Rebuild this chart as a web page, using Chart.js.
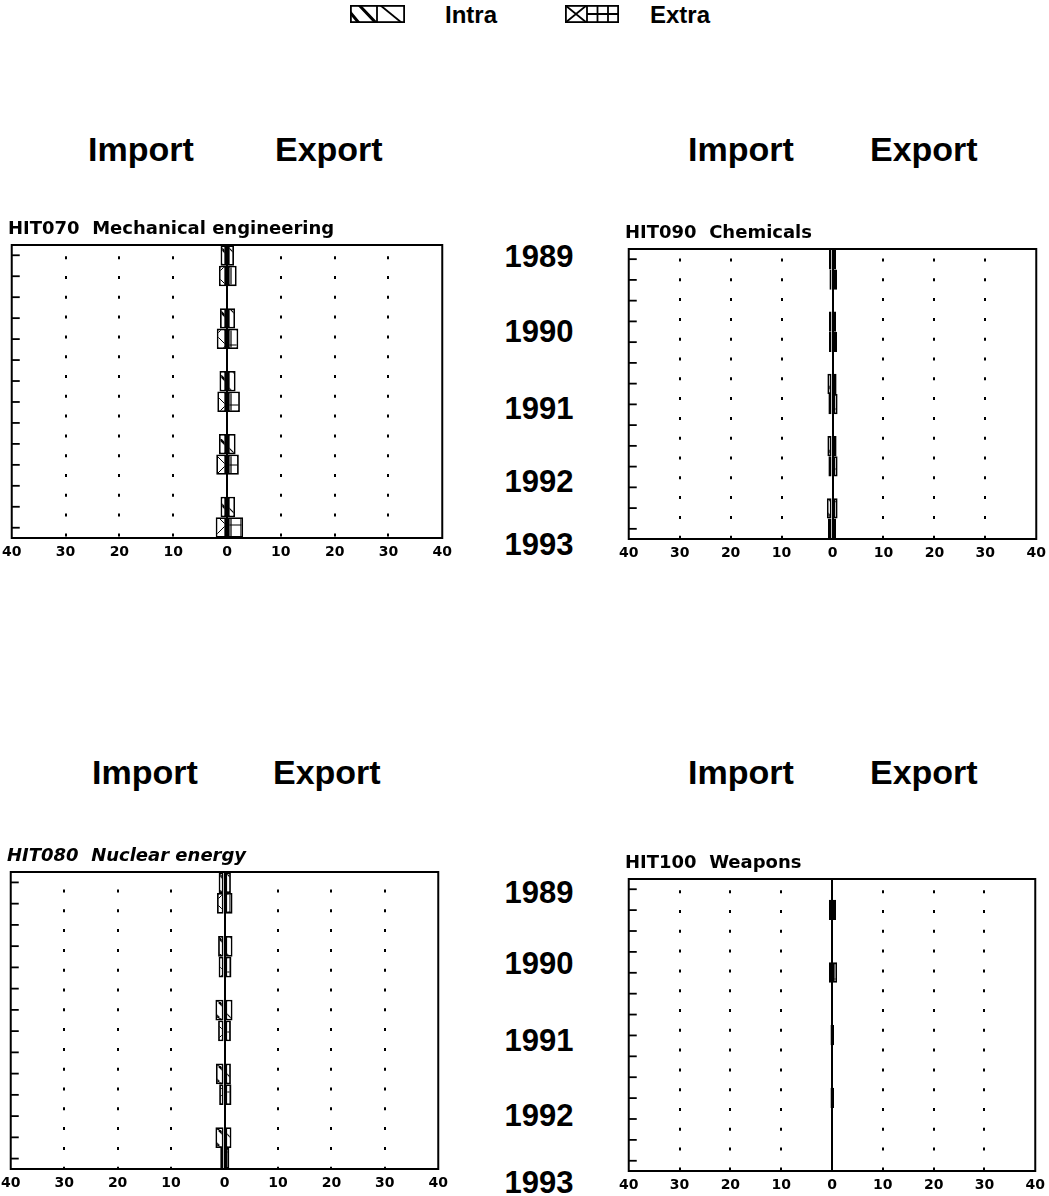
<!DOCTYPE html>
<html>
<head>
<meta charset="utf-8">
<script src="https://cdn.jsdelivr.net/npm/chart.js@4.4.0/dist/chart.umd.min.js"></script>
<style>
  body { margin: 0; background: #fff; }
  #page { position: relative; width: 1049px; height: 1196px; overflow: hidden; background: #fff; }
  .big { position: absolute; font-family: "Liberation Sans", Arial, sans-serif; font-weight: bold; font-size: 34px; line-height: 34px; color: #000; white-space: nowrap; }
  .year { position: absolute; width: 100px; text-align: center; font-family: "Liberation Sans", Arial, sans-serif; font-weight: bold; font-size: 31px; line-height: 31px; color: #000; }
  .leg { position: absolute; font-family: "Liberation Sans", Arial, sans-serif; font-weight: bold; font-size: 24px; line-height: 24px; color: #000; }
  canvas { position: absolute; }
</style>
</head>
<body>
<div id="page">
  <canvas id="swIntra" width="55" height="18" style="left:350px;top:5px"></canvas>
  <div class="leg" style="left:445px;top:3px">Intra</div>
  <canvas id="swExtra" width="54" height="18" style="left:565px;top:5px"></canvas>
  <div class="leg" style="left:650px;top:3px">Extra</div>

  <div class="big" style="left:88px;top:132px">Import</div>
  <div class="big" style="left:275px;top:132px">Export</div>
  <div class="big" style="left:688px;top:132px">Import</div>
  <div class="big" style="left:870px;top:132px">Export</div>
  <div class="big" style="left:92px;top:755px">Import</div>
  <div class="big" style="left:273px;top:755px">Export</div>
  <div class="big" style="left:688px;top:755px">Import</div>
  <div class="big" style="left:870px;top:755px">Export</div>
</div>
<script>
const years = ['1989', '1990', '1991', '1992', '1993'];
const xTickValues = [-40, -30, -20, -10, 0, 10, 20, 30, 40];

// HIT070 Mechanical engineering
const mechIntraImport = [-1.2, -1.3, -1.4, -1.5, -1.2];
const mechIntraExport = [1.3, 1.5, 1.6, 1.6, 1.5];
const mechExtraImport = [-1.5, -1.9, -1.8, -2.0, -2.1];
const mechExtraExport = [1.8, 2.1, 2.4, 2.2, 3.0];

// HIT090 Chemicals
const chemIntraImport = [-0.7, -0.7, -1.0, -1.0, -1.1];
const chemIntraExport = [0.7, 0.7, 0.8, 0.8, 1.0];
const chemExtraImport = [-0.6, -0.7, -0.8, -0.8, -0.9];
const chemExtraExport = [0.9, 0.9, 1.0, 1.0, 0.7];

// HIT080 Nuclear energy
const nuclIntraImport = [-1.1, -1.2, -1.7, -1.6, -1.7];
const nuclIntraExport = [1.2, 1.5, 1.5, 1.2, 1.3];
const nuclExtraImport = [-1.4, -1.1, -1.2, -1.0, -0.8];
const nuclExtraExport = [1.5, 1.3, 1.2, 1.3, 0.9];

// HIT100 Weapons
const weapIntraImport = [0, 0, 0, 0, 0];
const weapIntraExport = [0, 0, 0, 0, 0];
const weapExtraImport = [-0.6, -0.6, -0.3, -0.3, 0];
const weapExtraExport = [0.8, 1.0, 0.4, 0.4, 0];

// year labels between the panels (vertical centres)
const yearTopRow = [256.5, 331, 408, 481, 544];
const yearBottomRow = [892, 963, 1040, 1115, 1182];

const page = document.getElementById('page');

[yearTopRow, yearBottomRow].forEach(row => {
    row.forEach((cy, i) => {
        const d = document.createElement('div');
        d.className = 'year';
        d.style.left = '489px';
        d.style.top = (cy - 15.2) + 'px';
        d.textContent = years[i];
        page.appendChild(d);
    });
});

function tile(w, h, draw) {
    const c = document.createElement('canvas');
    c.width = w;
    c.height = h;
    const g = c.getContext('2d');
    g.fillStyle = '#fff';
    g.fillRect(0, 0, w, h);
    g.strokeStyle = '#000';
    draw(g, w, h);
    return g.createPattern(c, 'repeat');
}

function diag(g, s) {
    for (let x0 = -s; x0 <= s; x0 += s) {
        g.beginPath();
        g.moveTo(x0, 0);
        g.lineTo(x0 + s, s);
        g.stroke();
    }
}

const patterns = {
    intraImport: tile(16, 16, (g) => { g.lineWidth = 2.5; diag(g, 16); }),
    intraExport: tile(20, 20, (g) => { g.lineWidth = 1.2; diag(g, 20); }),
    extraImport: tile(20, 20, (g, w, h) => {
        g.lineWidth = 1;
        g.beginPath(); g.moveTo(0, 0); g.lineTo(w, h); g.moveTo(w, 0); g.lineTo(0, h); g.stroke();
    }),
    extraExport: tile(10, 20, (g, w, h) => {
        g.lineWidth = 1.2;
        g.beginPath(); g.moveTo(0, 10); g.lineTo(w, 10); g.moveTo(5, 0); g.lineTo(5, h); g.stroke();
    })
};

// legend swatches
(function () {
    let g = document.getElementById('swIntra').getContext('2d');
    g.strokeStyle = '#000';
    g.save();
    g.beginPath(); g.rect(0, 0, 27, 18); g.clip();
    g.lineWidth = 3;
    g.beginPath(); g.moveTo(-6, 0); g.lineTo(9, 18); g.moveTo(9, 0); g.lineTo(26, 18); g.stroke();
    g.restore();
    g.save();
    g.beginPath(); g.rect(27, 0, 28, 18); g.clip();
    g.lineWidth = 1.8;
    g.beginPath(); g.moveTo(30, 0); g.lineTo(52, 18); g.stroke();
    g.restore();
    g.lineWidth = 1.8;
    g.strokeRect(0.9, 0.9, 53.2, 16.2);
    g.beginPath(); g.moveTo(27, 0); g.lineTo(27, 18); g.stroke();

    g = document.getElementById('swExtra').getContext('2d');
    g.strokeStyle = '#000';
    g.lineWidth = 1.8;
    g.strokeRect(0.9, 0.9, 52.2, 16.2);
    g.beginPath();
    g.moveTo(0, 0); g.lineTo(22, 18); g.moveTo(22, 0); g.lineTo(0, 18);
    g.moveTo(22, 0); g.lineTo(22, 18);
    g.moveTo(32.5, 0); g.lineTo(32.5, 18);
    g.moveTo(43, 0); g.lineTo(43, 18);
    g.moveTo(22, 9); g.lineTo(54, 9);
    g.stroke();
})();

// frame and inward ticks on the left edge
const framePlugin = {
    id: 'frame',
    afterDatasetsDraw(chart) {
        const { ctx, chartArea: a, scales: { y } } = chart;
        ctx.save();
        ctx.strokeStyle = '#000';
        ctx.lineWidth = 2;
        ctx.strokeRect(a.left, a.top, a.right - a.left, a.bottom - a.top);
        ctx.lineWidth = 1.8;
        for (let k = 0; k < 14; k++) {
            const py = y.getPixelForValue(-1 / 6 + k / 3);
            ctx.beginPath();
            ctx.moveTo(a.left, py);
            ctx.lineTo(a.left + 8, py);
            ctx.stroke();
        }
        ctx.restore();
    }
};

const pts = arr => arr.map((v, i) => ({ x: v, y: i }));

function makePanel(p) {
    const c = document.createElement('canvas');
    const w = p.box.right - p.box.left + 24;
    const h = p.box.bottom - p.box.top + 62;
    c.width = w;
    c.height = h;
    c.style.left = (p.box.left - 12) + 'px';
    c.style.top = (p.box.top - 30) + 'px';
    page.appendChild(c);

    new Chart(c, {
        type: 'bar',
        data: {
            datasets: [
                { label: 'Intra import', data: pts(p.intraImport), stack: 'intra', backgroundColor: patterns.intraImport },
                { label: 'Intra export', data: pts(p.intraExport), stack: 'intra', backgroundColor: patterns.intraExport },
                { label: 'Extra import', data: pts(p.extraImport), stack: 'extra', backgroundColor: patterns.extraImport },
                { label: 'Extra export', data: pts(p.extraExport), stack: 'extra', backgroundColor: patterns.extraExport }
            ]
        },
        options: {
            indexAxis: 'y',
            responsive: false,
            animation: false,
            layout: { padding: { left: 12, right: 12, top: 4, bottom: 3.2 } },
            datasets: {
                bar: {
                    borderColor: '#000',
                    borderWidth: 1.8,
                    borderSkipped: false,
                    categoryPercentage: 0.65,
                    barPercentage: 1
                }
            },
            plugins: {
                legend: { display: false },
                tooltip: { enabled: false },
                title: {
                    display: true,
                    text: p.title,
                    align: 'start',
                    color: '#000',
                    font: { family: 'DejaVu Sans', size: 18, weight: 'bold', style: p.italic ? 'italic' : 'normal' },
                    padding: { top: 0, bottom: 4.4 }
                }
            },
            scales: {
                x: {
                    type: 'linear',
                    min: -40,
                    max: 40,
                    afterBuildTicks: s => { s.ticks = xTickValues.map(v => ({ value: v })); },
                    ticks: {
                        callback: v => Math.abs(v),
                        color: '#000',
                        font: { family: 'DejaVu Sans', size: 14, weight: 'bold' },
                        padding: 6,
                        maxRotation: 0,
                        autoSkip: false
                    },
                    grid: {
                        drawTicks: false,
                        color: ctx => (ctx.tick && Math.abs(ctx.tick.value) === 40 ? 'rgba(0,0,0,0)' : '#000'),
                        lineWidth: 2
                    },
                    border: {
                        display: false,
                        dash: ctx => (ctx.tick && ctx.tick.value === 0 ? [] : [3, 16.8]),
                        dashOffset: p.dotOffset
                    }
                },
                y: {
                    type: 'linear',
                    display: false,
                    offset: false,
                    reverse: true,
                    min: -0.33,
                    max: 4.33,
                    afterBuildTicks: s => { s.ticks = years.map((_, i) => ({ value: i })); }
                }
            }
        },
        plugins: [framePlugin]
    });
}

makePanel({
    title: 'HIT070  Mechanical engineering',
    box: { left: 8, top: 245, right: 446, bottom: 538 },
    dotOffset: 8.6,
    intraImport: mechIntraImport, intraExport: mechIntraExport,
    extraImport: mechExtraImport, extraExport: mechExtraExport
});
makePanel({
    title: 'HIT090  Chemicals',
    box: { left: 625, top: 249, right: 1040, bottom: 539 },
    dotOffset: 10.3,
    intraImport: chemIntraImport, intraExport: chemIntraExport,
    extraImport: chemExtraImport, extraExport: chemExtraExport
});
makePanel({
    title: 'HIT080  Nuclear energy',
    italic: true,
    box: { left: 7, top: 872, right: 442, bottom: 1169 },
    dotOffset: 2.3,
    intraImport: nuclIntraImport, intraExport: nuclIntraExport,
    extraImport: nuclExtraImport, extraExport: nuclExtraExport
});
makePanel({
    title: 'HIT100  Weapons',
    box: { left: 625, top: 879, right: 1039, bottom: 1171 },
    dotOffset: 8.6,
    intraImport: weapIntraImport, intraExport: weapIntraExport,
    extraImport: weapExtraImport, extraExport: weapExtraExport
});
</script>
</body>
</html>
